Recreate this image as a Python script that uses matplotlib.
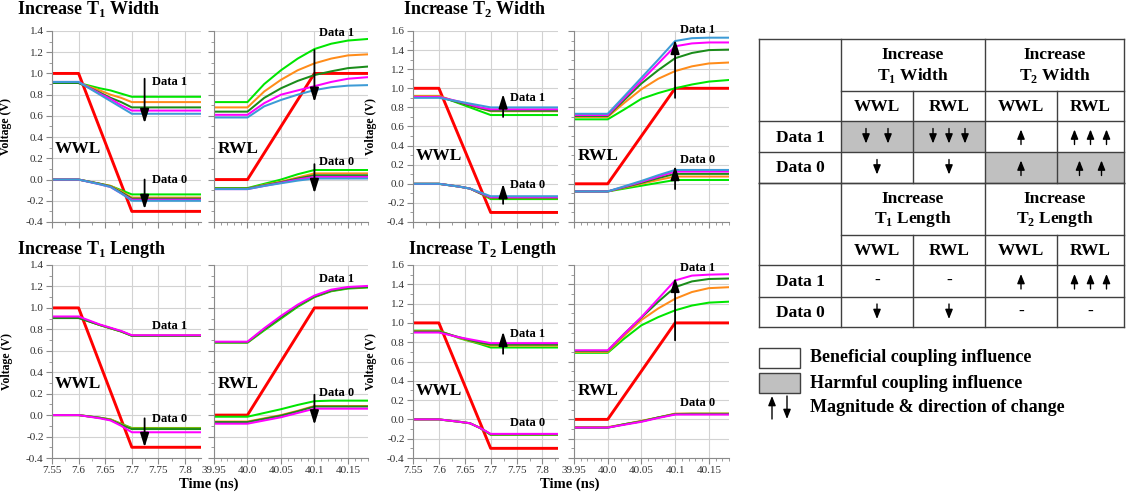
import matplotlib.pyplot as plt
from matplotlib.patches import Rectangle
from matplotlib.ticker import MultipleLocator

plt.rcParams['font.family'] = ['Liberation Serif', 'DejaVu Serif']
plt.rcParams['axes.unicode_minus'] = False

# time axes (ns) of the write and read word-line events
t_wwl = [7.55, 7.60, 7.64, 7.66, 7.68, 7.70, 7.83]
t_rwl = [39.95, 40.00, 40.025, 40.05, 40.075, 40.10, 40.125, 40.15, 40.18]

# word-line pulses (red)
wwl_pulse = [1.0, 1.0, 0.48, 0.22, -0.04, -0.3, -0.3]
rwl_pulse = [0.0, 0.0, 0.25, 0.5, 0.75, 1.0, 1.0, 1.0, 1.0]

colors5 = ['#00e600', '#ff8c1a', '#1a8c1a', '#ff00ff', '#3d9bd6']
colors4 = colors5[:4]

wwl_ticks = [7.55, 7.6, 7.65, 7.7, 7.75, 7.8]
wwl_labels = ['7.55', '7.6', '7.65', '7.7', '7.75', '7.8']
rwl_ticks = [39.95, 40.0, 40.05, 40.1, 40.15]
rwl_labels = ['39.95', '40.0', '40.05', '40.1', '40.15']

# ---- Increase T1 Width ----
t1w_wwl_d1 = [[0.91, 0.91, 0.86, 0.84, 0.81, 0.78, 0.78],
              [0.91, 0.91, 0.84, 0.80, 0.77, 0.73, 0.73],
              [0.91, 0.91, 0.82, 0.77, 0.73, 0.68, 0.68],
              [0.92, 0.92, 0.81, 0.76, 0.70, 0.65, 0.65],
              [0.92, 0.92, 0.80, 0.74, 0.68, 0.62, 0.62]]
t1w_wwl_d0 = [[0, 0, -0.04, -0.06, -0.10, -0.14, -0.14],
              [0, 0, -0.04, -0.06, -0.11, -0.17, -0.17],
              [0, 0, -0.04, -0.065, -0.12, -0.18, -0.18],
              [0, 0, -0.045, -0.07, -0.13, -0.19, -0.19],
              [0, 0, -0.045, -0.07, -0.13, -0.20, -0.20]]
t1w_rwl_d1 = [[0.73, 0.73, 0.90, 1.03, 1.14, 1.23, 1.28, 1.31, 1.325],
              [0.68, 0.68, 0.83, 0.94, 1.03, 1.095, 1.14, 1.17, 1.18],
              [0.64, 0.64, 0.77, 0.86, 0.93, 0.985, 1.02, 1.05, 1.065],
              [0.61, 0.61, 0.72, 0.80, 0.84, 0.88, 0.92, 0.95, 0.965],
              [0.585, 0.585, 0.69, 0.75, 0.80, 0.843, 0.87, 0.885, 0.89]]
t1w_rwl_d0 = [[-0.08, -0.08, -0.04, 0.0, 0.05, 0.09, 0.09, 0.09, 0.09],
              [-0.085, -0.085, -0.05, -0.02, 0.02, 0.058, 0.058, 0.058, 0.058],
              [-0.085, -0.085, -0.055, -0.025, 0.01, 0.04, 0.04, 0.04, 0.04],
              [-0.09, -0.09, -0.06, -0.03, 0.0, 0.025, 0.025, 0.025, 0.025],
              [-0.09, -0.09, -0.06, -0.035, -0.01, 0.01, 0.01, 0.01, 0.01]]

# ---- Increase T2 Width ----
t2w_wwl_d1 = [[0.92, 0.92, 0.84, 0.80, 0.76, 0.72, 0.72],
              [0.92, 0.92, 0.85, 0.82, 0.79, 0.76, 0.76],
              [0.91, 0.91, 0.85, 0.82, 0.79, 0.765, 0.765],
              [0.91, 0.91, 0.86, 0.83, 0.80, 0.78, 0.78],
              [0.90, 0.90, 0.86, 0.84, 0.82, 0.80, 0.80]]
t2w_wwl_d0 = [[0, 0, -0.03, -0.05, -0.10, -0.16, -0.16],
              [0, 0, -0.03, -0.05, -0.10, -0.15, -0.15],
              [0, 0, -0.03, -0.05, -0.10, -0.145, -0.145],
              [0, 0, -0.03, -0.05, -0.095, -0.14, -0.14],
              [0, 0, -0.03, -0.05, -0.09, -0.13, -0.13]]
t2w_rwl_d1 = [[0.675, 0.675, 0.78, 0.89, 0.95, 1.0, 1.04, 1.07, 1.087],
              [0.70, 0.70, 0.85, 0.99, 1.10, 1.18, 1.23, 1.26, 1.27],
              [0.71, 0.71, 0.88, 1.05, 1.19, 1.315, 1.37, 1.40, 1.405],
              [0.72, 0.72, 0.90, 1.08, 1.26, 1.44, 1.47, 1.48, 1.48],
              [0.733, 0.733, 0.92, 1.11, 1.30, 1.495, 1.525, 1.53, 1.53]]
t2w_rwl_d0 = [[-0.08, -0.08, -0.05, -0.02, 0.01, 0.04, 0.04, 0.04, 0.04],
              [-0.08, -0.08, -0.04, 0.0, 0.04, 0.076, 0.076, 0.076, 0.076],
              [-0.08, -0.08, -0.035, 0.01, 0.06, 0.104, 0.104, 0.104, 0.104],
              [-0.08, -0.08, -0.03, 0.02, 0.075, 0.128, 0.128, 0.128, 0.128],
              [-0.08, -0.08, -0.025, 0.03, 0.09, 0.145, 0.145, 0.145, 0.145]]

# ---- Increase T1 Length ----
t1l_wwl_d1 = [[0.91, 0.91, 0.84, 0.81, 0.78, 0.74, 0.74],
              [0.91, 0.91, 0.84, 0.81, 0.78, 0.742, 0.742],
              [0.905, 0.905, 0.84, 0.81, 0.78, 0.74, 0.74],
              [0.92, 0.92, 0.845, 0.815, 0.785, 0.745, 0.745]]
t1l_wwl_d0 = [[0, 0, -0.025, -0.04, -0.08, -0.12, -0.12],
              [0, 0, -0.025, -0.04, -0.085, -0.125, -0.125],
              [0, 0, -0.025, -0.045, -0.09, -0.13, -0.13],
              [0, 0, -0.03, -0.05, -0.10, -0.16, -0.16]]
t1l_rwl_d1 = [[0.675, 0.675, 0.79, 0.90, 1.01, 1.10, 1.155, 1.18, 1.19],
              [0.68, 0.68, 0.80, 0.91, 1.02, 1.105, 1.16, 1.185, 1.195],
              [0.68, 0.68, 0.80, 0.91, 1.02, 1.105, 1.16, 1.185, 1.195],
              [0.685, 0.685, 0.81, 0.925, 1.03, 1.115, 1.17, 1.195, 1.205]]
t1l_rwl_d0 = [[-0.015, -0.015, 0.02, 0.055, 0.095, 0.13, 0.135, 0.135, 0.135],
              [-0.06, -0.06, -0.03, 0.0, 0.04, 0.085, 0.085, 0.085, 0.085],
              [-0.065, -0.065, -0.035, -0.005, 0.035, 0.08, 0.08, 0.08, 0.08],
              [-0.08, -0.08, -0.05, -0.02, 0.02, 0.06, 0.06, 0.06, 0.06]]

# ---- Increase T2 Length ----
t2l_wwl_d1 = [[0.92, 0.92, 0.84, 0.81, 0.78, 0.745, 0.745],
              [0.915, 0.915, 0.845, 0.815, 0.79, 0.765, 0.765],
              [0.91, 0.91, 0.85, 0.82, 0.795, 0.775, 0.775],
              [0.90, 0.90, 0.85, 0.83, 0.81, 0.79, 0.79]]
t2l_wwl_d0 = [[0, 0, -0.025, -0.04, -0.09, -0.16, -0.16],
              [0, 0, -0.025, -0.04, -0.09, -0.155, -0.155],
              [0, 0, -0.025, -0.04, -0.09, -0.155, -0.155],
              [0, 0, -0.025, -0.04, -0.09, -0.15, -0.15]]
t2l_rwl_d1 = [[0.69, 0.69, 0.84, 0.975, 1.06, 1.13, 1.18, 1.21, 1.22],
              [0.70, 0.70, 0.87, 1.03, 1.15, 1.25, 1.32, 1.36, 1.37],
              [0.71, 0.71, 0.89, 1.055, 1.22, 1.37, 1.43, 1.455, 1.46],
              [0.716, 0.716, 0.89, 1.06, 1.25, 1.44, 1.49, 1.50, 1.505]]
t2l_rwl_d0 = [[-0.085, -0.085, -0.05, -0.02, 0.02, 0.055, 0.06, 0.06, 0.06],
              [-0.08, -0.08, -0.05, -0.015, 0.02, 0.06, 0.06, 0.06, 0.06],
              [-0.085, -0.085, -0.05, -0.02, 0.02, 0.055, 0.055, 0.055, 0.055],
              [-0.085, -0.085, -0.055, -0.025, 0.015, 0.05, 0.05, 0.05, 0.05]]

# summary table
tbl_headers = [['Increase\nT$_\\mathregular{1}$ Width', 'Increase\nT$_\\mathregular{2}$ Width'],
               ['Increase\nT$_\\mathregular{1}$ Length', 'Increase\nT$_\\mathregular{2}$ Length']]
tbl_sub = ['WWL', 'RWL', 'WWL', 'RWL']
tbl_rows = ['Data 1', 'Data 0']
# sign = direction, value = magnitude, 0 = no change
tbl_change = [[[-2, -3, 1, 3], [-1, -1, 1, 2]],
              [[0, 0, 1, 3], [-1, -1, 0, 0]]]
tbl_harmful = [[[1, 1, 0, 0], [0, 0, 1, 1]],
               [[0, 0, 0, 0], [0, 0, 0, 0]]]
legend_texts = ['Beneficial coupling influence', 'Harmful coupling influence',
                'Magnitude & direction of change']

W, H = 1126, 496
fig = plt.figure(figsize=(W / 100, H / 100), dpi=100)


def px_axes(x0, y0, x1, y1):
    return fig.add_axes([x0 / W, 1 - y1 / H, (x1 - x0) / W, (y1 - y0) / H])


def arrow(ax, x, y0, y1, lw=1.3, scale=12, hl=0.7, hw=0.22):
    ax.annotate('', xy=(x, y1), xytext=(x, y0),
                arrowprops=dict(arrowstyle='-|>,head_length=%g,head_width=%g' % (hl, hw),
                                color='black', lw=lw, mutation_scale=scale,
                                shrinkA=0, shrinkB=0))


def draw_panel(ax, wwl, d1, d0, colors, ytop, lab_y, arrows, show_x):
    t = t_wwl if wwl else t_rwl
    ax.plot(t, wwl_pulse if wwl else rwl_pulse, color='#ff0000', lw=2.1)
    for series, c in zip(d1 + d0, colors + colors):
        ax.plot(t, series, color=c, lw=1.45)

    yt = [i / 10 for i in range(-4, int(round(ytop * 10)) + 1, 2)]
    ax.set_ylim(-0.4, ytop)
    ax.set_yticks(yt, ['%.1f' % v for v in yt])
    ax.yaxis.set_minor_locator(MultipleLocator(0.1))
    if wwl:
        ax.set_xlim(7.55, 7.83)
        ax.set_xticks(wwl_ticks, wwl_labels)
        ax.xaxis.set_minor_locator(MultipleLocator(0.025))
        xt, xa, name, xn = 7.738, 7.724, 'WWL', 7.556
    else:
        ax.set_xlim(39.95, 40.18)
        ax.set_xticks(rwl_ticks, rwl_labels)
        ax.xaxis.set_minor_locator(MultipleLocator(0.01))
        xt, xa, name, xn = 40.107, 40.1, 'RWL', 39.955
        ax.tick_params(labelleft=False)

    ax.grid(True, which='major', color='#d2d2d2', lw=0.8)
    ax.set_axisbelow(True)
    for s in ['top', 'right']:
        ax.spines[s].set_visible(False)
    for s in ['left', 'bottom']:
        ax.spines[s].set_color('#8a8a8a')
    ax.tick_params(which='both', direction='out', color='#8a8a8a', labelsize=8,
                   labelcolor='#303030', pad=2)
    ax.tick_params(which='major', length=4)
    ax.tick_params(which='minor', length=2)
    if not show_x:
        ax.tick_params(labelbottom=False)

    ax.text(xn, 0.29, name, fontsize=12.5, fontweight='bold', va='center')
    ax.text(xt, lab_y[0], 'Data 1', fontsize=9, fontweight='bold', va='center', clip_on=False)
    ax.text(xt, lab_y[1], 'Data 0', fontsize=9, fontweight='bold', va='center', clip_on=False)
    for y0, y1 in arrows:
        arrow(ax, xa, y0, y1)


cols = [(52, 201), (214, 368), (413, 558), (574, 729)]
rows = [(31, 222), (265, 458)]

ax = px_axes(cols[0][0], rows[0][0], cols[0][1], rows[0][1])
draw_panel(ax, True, t1w_wwl_d1, t1w_wwl_d0, colors5, 1.4, (0.92, 0.0),
           [(0.95, 0.53), (0.0, -0.28)], False)
ax.set_ylabel('Voltage (V)', fontsize=8.5, fontweight='bold')
ax.yaxis.set_label_coords(-0.27, 0.5)
ax = px_axes(cols[1][0], rows[0][0], cols[1][1], rows[0][1])
draw_panel(ax, False, t1w_rwl_d1, t1w_rwl_d0, colors5, 1.4, (1.38, 0.17),
           [(1.22, 0.73), (0.145, -0.13)], False)

ax = px_axes(cols[2][0], rows[0][0], cols[2][1], rows[0][1])
draw_panel(ax, True, t2w_wwl_d1, t2w_wwl_d0, colors5, 1.6, (0.9, -0.01),
           [(0.70, 0.94), (-0.21, 0.0)], False)
ax.set_ylabel('Voltage (V)', fontsize=8.5, fontweight='bold')
ax.yaxis.set_label_coords(-0.25, 0.5)
ax = px_axes(cols[3][0], rows[0][0], cols[3][1], rows[0][1])
draw_panel(ax, False, t2w_rwl_d1, t2w_rwl_d0, colors5, 1.6, (1.61, 0.25),
           [(0.9, 1.51), (-0.055, 0.19)], False)

ax = px_axes(cols[0][0], rows[1][0], cols[0][1], rows[1][1])
draw_panel(ax, True, t1l_wwl_d1, t1l_wwl_d0, colors4, 1.4, (0.83, -0.04),
           [(-0.03, -0.30)], True)
ax.set_ylabel('Voltage (V)', fontsize=8.5, fontweight='bold')
ax.yaxis.set_label_coords(-0.26, 0.5)
ax = px_axes(cols[1][0], rows[1][0], cols[1][1], rows[1][1])
draw_panel(ax, False, t1l_rwl_d1, t1l_rwl_d0, colors4, 1.4, (1.265, 0.21),
           [(0.19, -0.09)], True)

ax = px_axes(cols[2][0], rows[1][0], cols[2][1], rows[1][1])
draw_panel(ax, True, t2l_wwl_d1, t2l_wwl_d0, colors4, 1.6, (0.88, -0.04),
           [(0.68, 0.91)], True)
ax.set_ylabel('Voltage (V)', fontsize=8.5, fontweight='bold')
ax.yaxis.set_label_coords(-0.25, 0.5)
ax = px_axes(cols[3][0], rows[1][0], cols[3][1], rows[1][1])
draw_panel(ax, False, t2l_rwl_d1, t2l_rwl_d0, colors4, 1.6, (1.57, 0.17),
           [(0.82, 1.47)], True)

# overlay in pixel coordinates for titles, table and legend
ov = fig.add_axes([0, 0, 1, 1])
ov.set_xlim(0, W)
ov.set_ylim(H, 0)
ov.axis('off')

bold = dict(fontweight='bold')
ov.text(17, 9, 'Increase T$_\\mathregular{1}$ Width', fontsize=13, va='center', **bold)
ov.text(403, 9, 'Increase T$_\\mathregular{2}$ Width', fontsize=13, va='center', **bold)
ov.text(17, 250, 'Increase T$_\\mathregular{1}$ Length', fontsize=13, va='center', **bold)
ov.text(408, 250, 'Increase T$_\\mathregular{2}$ Length', fontsize=13, va='center', **bold)
ov.text(209, 484, 'Time (ns)', fontsize=10.5, ha='center', va='center', **bold)
ov.text(570, 484, 'Time (ns)', fontsize=10.5, ha='center', va='center', **bold)

# table
tx = [759, 841, 913, 985, 1057, 1124]
line = dict(color='#404040', lw=1.0)
for b, (y_top, y_sub, y_r1, y_r2, y_bot) in enumerate([(39, 91, 121, 152, 183),
                                                       (183, 235, 265, 297, 327)]):
    ry = [y_r1, y_r2, y_bot]
    for r in range(2):
        for c in range(4):
            if tbl_harmful[b][r][c]:
                ov.add_patch(Rectangle((tx[c + 1], ry[r]), tx[c + 2] - tx[c + 1],
                                       ry[r + 1] - ry[r], facecolor='#c0c0c0',
                                       edgecolor='none'))
    ov.plot([tx[0], tx[-1]], [y_top, y_top], **line)
    ov.plot([tx[1], tx[-1]], [y_sub, y_sub], **line)
    for y in [y_r1, y_r2, y_bot]:
        ov.plot([tx[0], tx[-1]], [y, y], **line)
    for x in [tx[0], tx[1], tx[3], tx[5]]:
        ov.plot([x, x], [y_top, y_bot], **line)
    for x in [tx[2], tx[4]]:
        ov.plot([x, x], [y_sub, y_bot], **line)

    for g in range(2):
        ov.text((tx[1 + 2 * g] + tx[3 + 2 * g]) / 2, (y_top + y_sub) / 2 + 1,
                tbl_headers[b][g], fontsize=12.5, ha='center', va='center',
                linespacing=1.15, **bold)
    for c in range(4):
        ov.text((tx[c + 1] + tx[c + 2]) / 2, (y_sub + y_r1) / 2 + 1, tbl_sub[c],
                fontsize=12.5, ha='center', va='center', **bold)
    for r in range(2):
        yc = (ry[r] + ry[r + 1]) / 2
        ov.text((tx[0] + tx[1]) / 2, yc + 1, tbl_rows[r], fontsize=12.5,
                ha='center', va='center', **bold)
        for c in range(4):
            v = tbl_change[b][r][c]
            xc = (tx[c + 1] + tx[c + 2]) / 2
            n = abs(v)
            if n == 0:
                ov.text(xc, yc, '-', fontsize=12.5, ha='center', va='center', **bold)
                continue
            step = {1: 0, 2: 22, 3: 16}[n]
            for k in range(n):
                x = xc + (k - (n - 1) / 2) * step
                if v > 0:
                    arrow(ov, x, yc + 8, yc - 7, lw=1.0, scale=8, hl=0.7, hw=0.28)
                else:
                    arrow(ov, x, yc - 8, yc + 7, lw=1.0, scale=8, hl=0.7, hw=0.28)

# legend
ov.add_patch(Rectangle((759, 348), 41, 20, facecolor='white', edgecolor='#404040', lw=1.0))
ov.add_patch(Rectangle((759, 373), 41, 20, facecolor='#c0c0c0', edgecolor='#404040', lw=1.0))
arrow(ov, 772, 419, 396, lw=1.0, scale=8, hl=0.7, hw=0.28)
arrow(ov, 787, 396, 419, lw=1.0, scale=8, hl=0.7, hw=0.28)
for y, s in zip([357, 383, 408], legend_texts):
    ov.text(810, y, s, fontsize=13, va='center', **bold)

fig.savefig('out.png', dpi=100)
